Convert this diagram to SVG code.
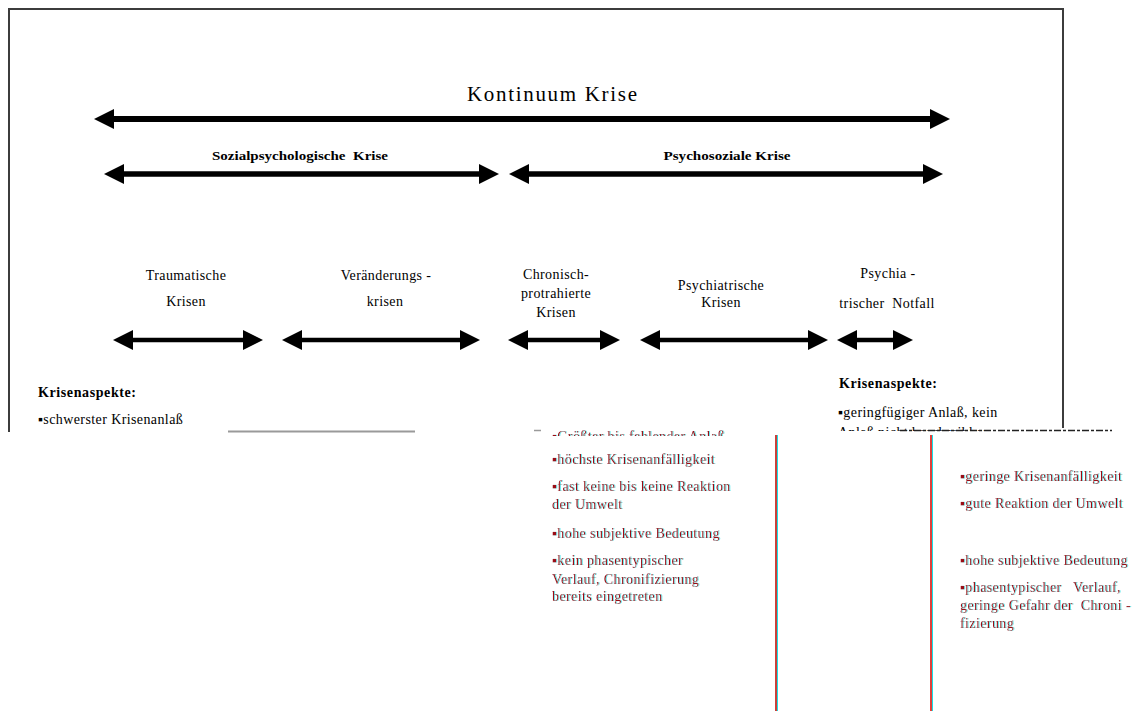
<svg xmlns="http://www.w3.org/2000/svg" width="1141" height="711" viewBox="0 0 1141 711">
<style>
  text { font-family: "Liberation Serif", "DejaVu Serif", "Times New Roman", serif; font-size: 14px; letter-spacing: 0.4px; fill: #000; }
  .title { font-size: 21px; letter-spacing: 0; }
  .b { font-weight: bold; font-size: 13px; letter-spacing: 0; }
  .kb { font-weight: bold; font-size: 14px; letter-spacing: 0.6px; }
  .mid { text-anchor: middle; }
  .pre { white-space: pre; }
  .red { fill: #9a1016; }
  .arrow { stroke: #000; fill: none; marker-start: url(#ah); marker-end: url(#ah); }
  .a1 { stroke-width: 6; }
  .a2 { stroke-width: 5.5; }
  .a3 { stroke-width: 4.5; }
</style>
<defs>
  <marker id="ah" markerUnits="userSpaceOnUse" markerWidth="20" markerHeight="20" viewBox="0 0 20 20" refX="0" refY="10" orient="auto-start-reverse">
    <path d="M0,0 L20,10 L0,20 z" fill="#000"/>
  </marker>
  <filter id="ca" x="-5%" y="-20%" width="110%" height="140%">
    <feOffset in="SourceAlpha" dx="1" dy="0" result="o"/>
    <feFlood flood-color="#19e0e6" flood-opacity="0.7"/>
    <feComposite in2="o" operator="in" result="c"/>
    <feMerge><feMergeNode in="c"/><feMergeNode in="SourceGraphic"/></feMerge>
  </filter>
  <clipPath id="clipMid"><rect x="540" y="426" width="190" height="10"/></clipPath>
  <clipPath id="clipRight"><rect x="836" y="424" width="160" height="7"/></clipPath>
</defs>
<rect width="1141" height="711" fill="#fff"/>

<!-- frame -->
<path d="M9,432 V9 H1063 V428" fill="none" stroke="#3c3c3c" stroke-width="2"/>
<line x1="228" y1="431.5" x2="415" y2="431.5" stroke="#9a9a9a" stroke-width="2"/>
<line x1="534" y1="430.5" x2="541" y2="430.5" stroke="#9a9a9a" stroke-width="1.5"/>

<g id="title"><text class="title mid" x="552" y="101" textLength="170" lengthAdjust="spacing">Kontinuum Krise</text></g>
<g id="band-sozialpsychologisch"><text class="b mid" x="300" y="160" textLength="176" lengthAdjust="spacingAndGlyphs" style="white-space:pre">Sozialpsychologische  Krise</text></g>
<g id="band-psychosozial"><text class="b mid" x="727" y="160" textLength="127" lengthAdjust="spacingAndGlyphs">Psychosoziale Krise</text></g>

<g id="cat-traumatisch">
  <text class="mid" x="186" y="280">Traumatische</text>
  <text class="mid" x="186" y="306">Krisen</text>
</g>
<g id="cat-veraenderung">
  <text class="mid" x="386" y="280">Veränderungs -</text>
  <text class="mid" x="385" y="306">krisen</text>
</g>
<g id="cat-chronisch">
  <text class="mid" x="556" y="279">Chronisch-</text>
  <text class="mid" x="556" y="298">protrahierte</text>
  <text class="mid" x="556" y="317">Krisen</text>
</g>
<g id="cat-psychiatrisch">
  <text class="mid" x="721" y="290">Psychiatrische</text>
  <text class="mid" x="721" y="307">Krisen</text>
</g>
<g id="cat-notfall">
  <text class="mid" x="888" y="278">Psychia -</text>
  <text class="mid pre" x="887" y="308">trischer  Notfall</text>
</g>

<g id="connectors">
  <line class="arrow a1" x1="114" y1="119" x2="930" y2="119"/>
  <line class="arrow a2" x1="124" y1="174" x2="479" y2="174"/>
  <line class="arrow a2" x1="529" y1="174" x2="923" y2="174"/>
  <line class="arrow a3" x1="133" y1="340" x2="243" y2="340"/>
  <line class="arrow a3" x1="302" y1="340" x2="460" y2="340"/>
  <line class="arrow a3" x1="528" y1="340" x2="600" y2="340"/>
  <line class="arrow a3" x1="660" y1="340" x2="808" y2="340"/>
  <line class="arrow a3" x1="857" y1="340" x2="893" y2="340"/>
</g>

<g id="aspects-left">
  <text class="kb" x="38" y="397">Krisenaspekte:</text>
  <text x="38" y="424">▪schwerster Krisenanlaß</text>
</g>

<g id="aspects-middle" filter="url(#ca)">
  <text class="red" x="552" y="441" clip-path="url(#clipMid)">▪Größter bis fehlender Anlaß</text>
  <text class="red" x="552" y="464">▪höchste Krisenanfälligkeit</text>
  <text class="red" x="552" y="491">▪fast keine bis keine Reaktion</text>
  <text class="red" x="552" y="509">der Umwelt</text>
  <text class="red" x="552" y="538">▪hohe subjektive Bedeutung</text>
  <text class="red" x="552" y="565">▪kein phasentypischer</text>
  <text class="red" x="552" y="584">Verlauf, Chronifizierung</text>
  <text class="red" x="552" y="601">bereits eingetreten</text>
</g>

<g id="aspects-right">
  <text class="kb" x="839" y="388">Krisenaspekte:</text>
  <text x="838" y="417">▪geringfügiger Anlaß, kein</text>
  <text x="838" y="437" clip-path="url(#clipRight)">Anlaß nicht beschreibbar</text>
  <line x1="900" y1="430.5" x2="1112" y2="430.5" stroke="#222" stroke-width="1.3" stroke-dasharray="7 2 3 2"/>
</g>

<g id="aspects-right-lower" filter="url(#ca)">
  <text class="red" x="960" y="481">▪geringe Krisenanfälligkeit</text>
  <text class="red" x="960" y="508">▪gute Reaktion der Umwelt</text>
  <text class="red" x="960" y="565">▪hohe subjektive Bedeutung</text>
  <text class="red pre" x="960" y="592">▪phasentypischer   Verlauf,</text>
  <text class="red pre" x="960" y="610">geringe Gefahr der  Chroni -</text>
  <text class="red" x="960" y="628">fizierung</text>
</g>

<g id="dividers">
  <line x1="776" y1="435" x2="776" y2="711" stroke="#c9403a" stroke-width="2"/>
  <line x1="777.5" y1="435" x2="777.5" y2="711" stroke="#19e0e6" stroke-width="1"/>
  <line x1="931" y1="435" x2="931" y2="711" stroke="#e0403a" stroke-width="2"/>
  <line x1="932.5" y1="435" x2="932.5" y2="711" stroke="#19e0e6" stroke-width="1"/>
</g>
</svg>
